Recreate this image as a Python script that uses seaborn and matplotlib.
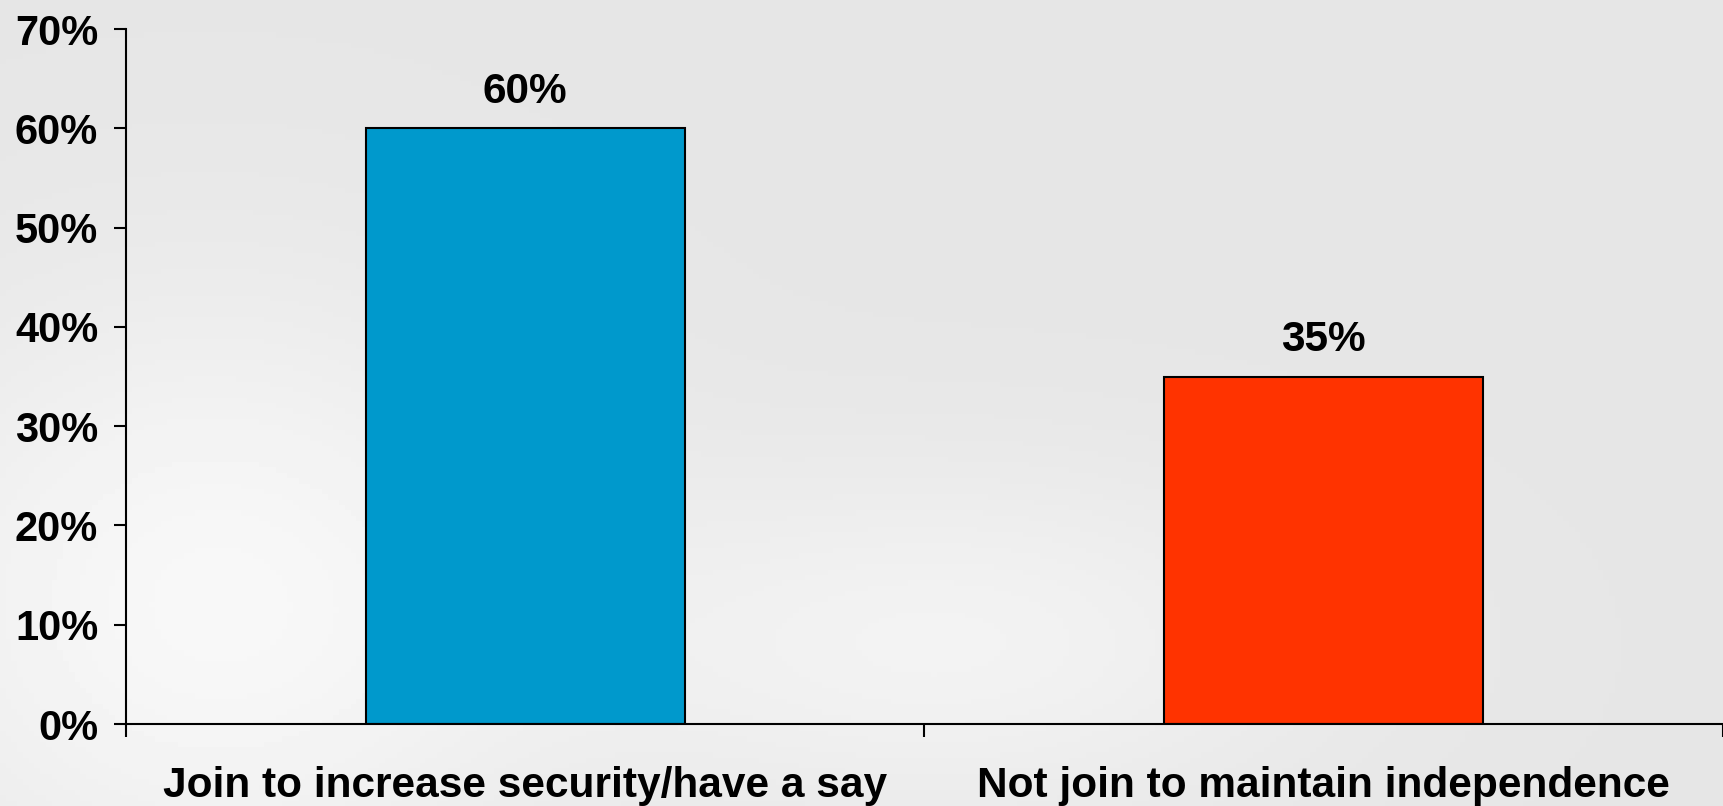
import matplotlib
matplotlib.use("Agg")
import matplotlib.pyplot as plt
import seaborn as sns
import numpy as np
import pandas as pd

# Data
categories = ["Join to increase security/have a say", "Not join to maintain independence"]
shares = [60, 35]
bar_colors = ["#0099CC", "#FF3300"]
y_ticks = [0, 10, 20, 30, 40, 50, 60, 70]

df = pd.DataFrame({"choice": categories, "share": shares})

sns.set_style("white")
plt.rcParams["font.family"] = ["Liberation Sans", "DejaVu Sans"]
plt.rcParams["font.weight"] = "bold"
plt.rcParams["text.color"] = "black"
plt.rcParams["xtick.color"] = "black"
plt.rcParams["ytick.color"] = "black"

fig = plt.figure(figsize=(17.24, 8.06), dpi=100)
fig.patch.set_facecolor("#e6e6e6")

# soft grey backdrop, lighter towards the lower left
bg = fig.add_axes([0, 0, 1, 1], zorder=0)
xx, yy = np.meshgrid(np.linspace(0, 1, 300), np.linspace(0, 1, 150))
shade = 0.90 + 0.07 * np.exp(-((xx - 0.12) ** 2 / 0.04 + (yy - 0.25) ** 2 / 0.15)) \
    + 0.05 * np.exp(-((xx - 0.55) ** 2 / 0.05 + (yy - 0.2) ** 2 / 0.05))
bg.imshow(np.clip(shade, 0, 1), cmap="gray", vmin=0, vmax=1, aspect="auto",
          extent=[0, 1, 0, 1], origin="lower")
bg.axis("off")

ax = fig.add_axes([0.0731, 0.1017, 0.9263, 0.8623], zorder=1)
ax.patch.set_alpha(0)

sns.barplot(data=df, x="choice", y="share", hue="choice", palette=bar_colors,
            saturation=1, width=0.4, edgecolor="black", linewidth=1.5,
            legend=False, ax=ax)

for cont in ax.containers:
    ax.bar_label(cont, labels=[f"{v:.0f}%" for v in cont.datavalues],
                 padding=12, fontsize=30.5, fontweight="bold", color="black")

ax.set_ylim(0, 70)
ax.set_xlim(-0.5, 1.5)
ax.set_yticks(y_ticks)
ax.set_yticklabels([f"{t}%" for t in y_ticks], fontsize=30, fontweight="bold")
ax.tick_params(axis="y", direction="out", length=9, width=1.5, pad=11, left=True,
               colors="black")

ax.set_xticks(range(len(categories)))
ax.set_xticklabels(categories, fontsize=30.5, fontweight="bold")
ax.tick_params(axis="x", which="major", length=0, pad=30, colors="black")
ax.set_xticks([-0.5, 0.5, 1.5], minor=True)
ax.tick_params(axis="x", which="minor", direction="out", length=9, width=1.5,
               bottom=True, colors="black")

ax.set_xlabel("")
ax.set_ylabel("")
sns.despine(ax=ax, top=True, right=True)
for s in ["left", "bottom"]:
    ax.spines[s].set_linewidth(1.5)
    ax.spines[s].set_color("black")

fig.savefig("out.png", dpi=100)
